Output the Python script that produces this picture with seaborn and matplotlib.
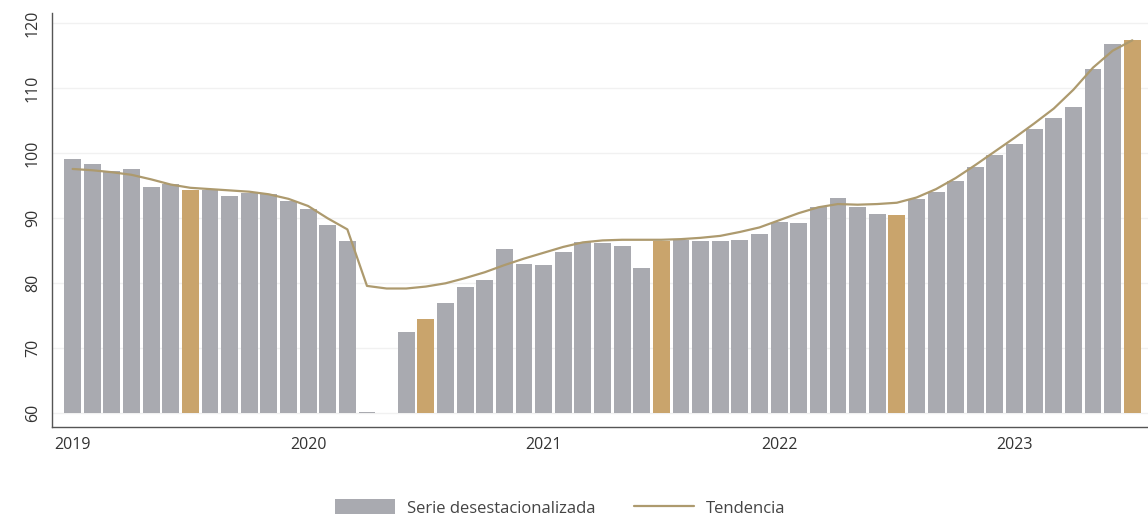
import numpy as np
import pandas as pd
import matplotlib
matplotlib.use("Agg")
import matplotlib.pyplot as plt
import seaborn as sns
from matplotlib.patches import Patch
from matplotlib.lines import Line2D

# Serie mensual enero 2019 - julio 2023
meses = pd.date_range("2019-01-01", "2023-07-01", freq="MS")

serie = [99.2, 98.3, 97.3, 97.6, 94.8, 95.3, 94.4, 94.3, 93.5, 93.9, 93.8, 92.7,
         91.5, 88.9, 86.5, 60.2, np.nan, 72.5, 74.5, 76.9, 79.5, 80.5, 85.3, 83.0,
         82.8, 84.8, 86.4, 86.2, 85.7, 82.3, 86.5, 86.7, 86.5, 86.5, 86.7, 87.6,
         89.4, 89.3, 91.8, 93.2, 91.7, 90.6, 90.5, 92.9, 94.0, 95.8, 97.9, 99.7,
         101.5, 103.8, 105.5, 107.2, 113.0, 116.8, 117.4]

tendencia = [97.6, 97.4, 97.1, 96.7, 96.0, 95.2, 94.7, 94.5, 94.3, 94.1, 93.7, 93.0,
             91.9, 90.0, 88.3, 79.6, 79.2, 79.2, 79.5, 80.0, 80.8, 81.7, 82.8, 83.8,
             84.7, 85.6, 86.3, 86.6, 86.7, 86.7, 86.7, 86.8, 87.0, 87.3, 87.9, 88.6,
             89.7, 90.8, 91.7, 92.2, 92.1, 92.2, 92.4, 93.2, 94.5, 96.2, 98.2, 100.3,
             102.4, 104.6, 106.9, 109.8, 113.2, 115.8, 117.4]

anios = ["2019", "2020", "2021", "2022", "2023"]
BASE = 60

df = pd.DataFrame({"fecha": meses, "serie": serie, "tendencia": tendencia})
df["pos"] = np.arange(len(df))
df["altura"] = df["serie"] - BASE
df["julio"] = np.where(df["fecha"].dt.month == 7, "jul", "otro")

gris = "#A9AAB0"
oro = "#C9A46C"
linea = "#AD9A6E"

sns.set_theme(style="white")
plt.rcParams["font.family"] = ["Open Sans", "DejaVu Sans"]

fig = plt.figure(figsize=(11.48, 5.21), dpi=100)
ax = fig.add_axes([0.0453, 0.180, 0.9547, 0.795])

sns.barplot(data=df, x="pos", y="altura", hue="julio",
            palette={"jul": oro, "otro": gris}, dodge=False, legend=False,
            width=0.86, bottom=BASE, linewidth=0, saturation=1, ax=ax, zorder=2)
sns.lineplot(data=df, x="pos", y="tendencia", color=linea, linewidth=1.6,
             ax=ax, zorder=3)

ax.set_xlim(-1.05, 54.8)
ax.set_ylim(57.85, 121.6)
ax.set_yticks(range(60, 121, 10))
ax.set_yticklabels([str(v) for v in range(60, 121, 10)], rotation=90, va="center")
ax.set_xticks([0, 12, 24, 36, 48])
ax.set_xticklabels(anios)
ax.set_xlabel("")
ax.set_ylabel("")
ax.grid(axis="y", color="#F1F1F1", linewidth=1, zorder=0)
ax.set_axisbelow(True)

for s in ["top", "right"]:
    ax.spines[s].set_visible(False)
for s in ["left", "bottom"]:
    ax.spines[s].set_color("#555555")
    ax.spines[s].set_linewidth(1.0)
ax.tick_params(axis="both", which="both", direction="out", length=5, width=1,
               color="#555555", labelsize=11.5, labelcolor="#333333", pad=3)
ax.tick_params(axis="x", length=4)

handles = [Patch(facecolor=gris, edgecolor="none"),
           Line2D([0], [0], color=linea, linewidth=1.6)]
fig.legend(handles, ["Serie desestacionalizada", "Tendencia"],
           loc="center", bbox_to_anchor=(0.488, 0.025), ncol=2, frameon=False,
           fontsize=12, handlelength=3.6, handleheight=1.0,
           columnspacing=2.3, handletextpad=0.7, labelcolor="#444444")

fig.savefig("out.png", dpi=100)
